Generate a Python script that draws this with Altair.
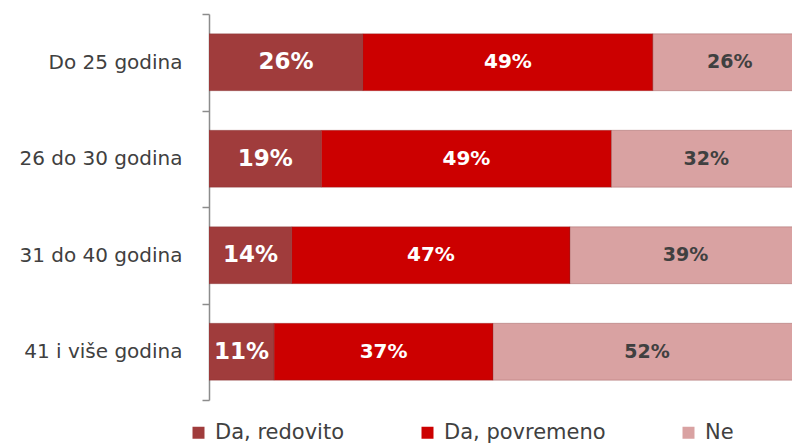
import altair as alt
import pandas as pd

categories = ["Do 25 godina", "26 do 30 godina", "31 do 40 godina", "41 i više godina"]
series = ["Da, redovito", "Da, povremeno", "Ne"]
redovito = [26, 19, 14, 11]
povremeno = [49, 49, 47, 37]
ne = [26, 32, 39, 52]
colors = ["#a03c3c", "#cc0000", "#d9a2a2"]

rows = []
for i, c in enumerate(categories):
    for j, (s, vals) in enumerate(zip(series, [redovito, povremeno, ne])):
        rows.append({"cat": c, "series": s, "order": j, "value": vals[i],
                     "label": f"{vals[i]}%"})
df = pd.DataFrame(rows)

base = alt.Chart(df).transform_stack(
    stack="value", groupby=["cat"], sort=[alt.SortField("order")],
    as_=["x0", "x1"]
).transform_calculate(mid="(datum.x0 + datum.x1) / 2")

yenc = alt.Y(
    "cat:N", sort=categories, title=None,
    scale=alt.Scale(paddingInner=0, paddingOuter=0),
    axis=alt.Axis(
        labelFont="DejaVu Sans", labelFontSize=20, labelColor="#404040",
        tickBand="extent", tickSize=7, tickColor="#8c8c8c", tickWidth=1.5,
        domainColor="#8c8c8c", domainWidth=1.5, labelPadding=20, grid=False,
    ),
)
# the original plot runs slightly past the right edge of the picture
xscale = alt.Scale(domain=[0, 98.5], nice=False, zero=True)

bars = base.mark_bar(
    height={"band": 0.59}, clip=True,
    stroke="#7a2a2a", strokeWidth=0.6, strokeOpacity=0.5,
).encode(
    x=alt.X("x0:Q", scale=xscale, axis=None),
    x2="x1:Q",
    y=yenc,
    color=alt.Color(
        "series:N", sort=series,
        scale=alt.Scale(domain=series, range=colors),
        legend=alt.Legend(
            title=None, orient="none", legendX=-21, legendY=408,
            direction="horizontal", symbolType="square", symbolSize=144,
            symbolStrokeWidth=0, labelFont="DejaVu Sans", labelFontSize=21,
            labelColor="#404040", columnPadding=72, labelOffset=6,
            labelLimit=400,
        ),
    ),
)

def text_layer(order, color, size):
    return base.transform_filter(f"datum.order == {order}").mark_text(
        font="DejaVu Sans", fontWeight="bold", fontSize=size, color=color,
        align="center", baseline="middle", clip=True,
    ).encode(
        x=alt.X("mid:Q", scale=xscale, axis=None),
        y=alt.Y("cat:N", sort=categories),
        text="label:N",
    )

chart = alt.layer(
    bars,
    text_layer(0, "white", 23),
    text_layer(1, "white", 20),
    text_layer(2, "#404040", 19),
).properties(
    width=583, height=386,
    autosize=alt.AutoSizeParams(type="none"),
    padding={"left": 201, "top": 6, "right": 0, "bottom": 44},
).configure_view(stroke=None)

chart.save("out.html", embed_options={"renderer": "svg", "actions": False})
